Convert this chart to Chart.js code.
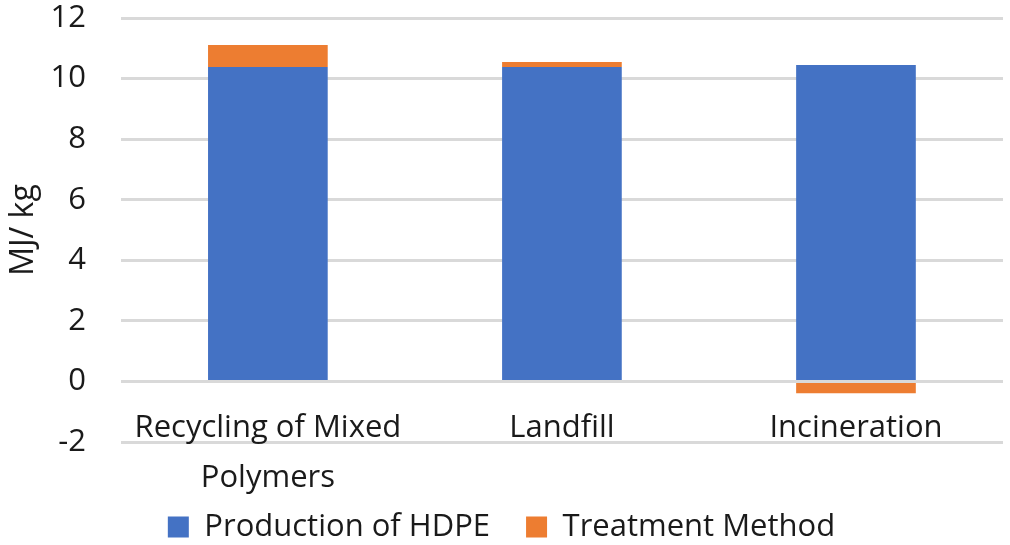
<!DOCTYPE html>
<html>
<head>
<meta charset="utf-8">
<script src="https://cdn.jsdelivr.net/npm/chart.js@4/dist/chart.umd.min.js"></script>
<style>
  html, body { margin: 0; padding: 0; background: #fff; }
  #wrap { width: 1010px; height: 545px; }
</style>
</head>
<body>
<div id="wrap"><canvas id="energyChart"></canvas></div>
<script>
const categories = [['Recycling of Mixed', 'Polymers'], 'Landfill', 'Incineration'];
const productionHDPE = [10.38, 10.38, 10.45];
const treatmentMethod = [0.73, 0.17, -0.39];
const yTicks = [-2, 0, 2, 4, 6, 8, 10, 12];

const fontFamily = '"Open Sans", Lato, sans-serif';
const textColor = '#1a1a1a';
Chart.defaults.font.family = fontFamily;
Chart.defaults.color = textColor;

// category labels sit just under the zero line, like the original
const zeroLineLabels = {
    id: 'zeroLineLabels',
    afterDraw(chart) {
        const x = chart.scales.x;
        const y = chart.scales.y;
        const c = chart.ctx;
        const y0 = y.getPixelForValue(0);
        c.save();
        c.font = '31px ' + fontFamily;
        c.fillStyle = textColor;
        c.textAlign = 'center';
        c.textBaseline = 'middle';
        chart.data.labels.forEach((lab, i) => {
            const lines = Array.isArray(lab) ? lab : [lab];
            const px = x.getPixelForValue(i);
            lines.forEach((line, j) => {
                c.fillText(line, px, y0 + 46.5 + j * 50);
            });
        });
        c.restore();
    }
};

const ctx = document.getElementById('energyChart').getContext('2d');
new Chart(ctx, {
    type: 'bar',
    data: {
        labels: categories,
        datasets: [{
            label: 'Production of HDPE',
            data: productionHDPE,
            backgroundColor: '#4472C4',
            borderWidth: 0
        }, {
            label: 'Treatment Method',
            data: treatmentMethod,
            backgroundColor: '#ED7D31',
            borderWidth: 0
        }]
    },
    options: {
        responsive: true,
        maintainAspectRatio: false,
        animation: false,
        datasets: {
            bar: {
                barPercentage: 0.407,
                categoryPercentage: 1
            }
        },
        layout: {
            padding: { left: 0, right: 7, top: 18, bottom: -7.5 }
        },
        scales: {
            x: {
                stacked: true,
                display: false
            },
            y: {
                stacked: true,
                min: -2,
                max: 12,
                afterBuildTicks: function(scale) {
                    scale.ticks = yTicks.map(v => ({ value: v }));
                },
                // the big tick padding should not push the plot down
                afterFit: function(scale) {
                    scale.paddingTop = 0;
                    scale.paddingBottom = 0;
                },
                grid: {
                    color: '#d9d9d9',
                    lineWidth: 3,
                    drawTicks: false
                },
                border: { display: false },
                ticks: {
                    font: { size: 31 },
                    padding: 35
                },
                title: {
                    display: true,
                    text: 'MJ/ kg',
                    font: { size: 32 },
                    padding: { top: 5, bottom: -28 }
                }
            }
        },
        plugins: {
            legend: {
                position: 'bottom',
                title: {
                    display: true,
                    text: ' ',
                    font: { size: 12 },
                    padding: { top: 9, bottom: 10.1 }
                },
                labels: {
                    font: { size: 31 },
                    boxWidth: 21,
                    boxHeight: 21,
                    padding: 36
                }
            },
            tooltip: { enabled: false }
        }
    },
    plugins: [zeroLineLabels]
});
</script>
</body>
</html>
